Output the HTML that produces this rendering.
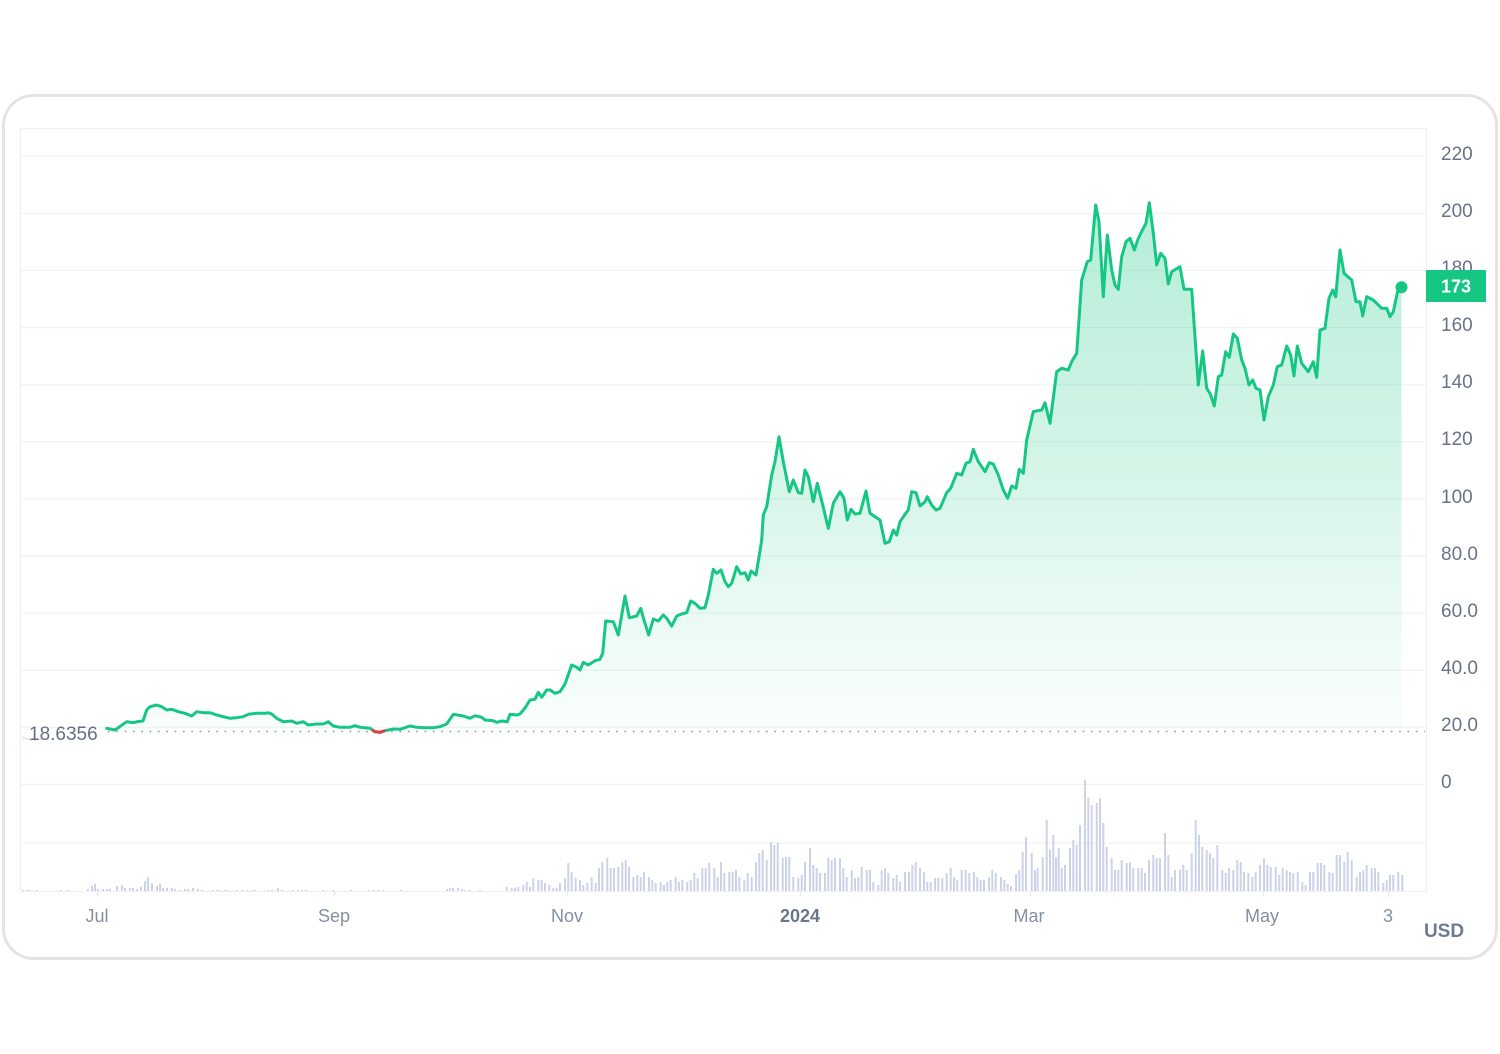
<!DOCTYPE html>
<html>
<head>
<meta charset="utf-8">
<style>
  html, body { margin:0; padding:0; background:#ffffff; }
  body { width:1500px; height:1054px; overflow:hidden; }
  svg { display:block; }
  text { font-family: "Liberation Sans", "DejaVu Sans", sans-serif; }
</style>
</head>
<body>
<svg width="1500" height="1054" viewBox="0 0 1500 1054" xmlns="http://www.w3.org/2000/svg">
  <defs>
    <linearGradient id="fillg" x1="0" y1="203" x2="0" y2="732" gradientUnits="userSpaceOnUse">
      <stop offset="0" stop-color="#16c784" stop-opacity="0.32"/>
      <stop offset="0.5" stop-color="#16c784" stop-opacity="0.18"/>
      <stop offset="1" stop-color="#16c784" stop-opacity="0.02"/>
    </linearGradient>
  </defs>

  <!-- card -->
  <rect x="3.5" y="95.5" width="1493" height="863" rx="30" ry="30" fill="#ffffff" stroke="#e4e4e4" stroke-width="3"/>

  <!-- plot area border -->
  <rect x="20.5" y="128.5" width="1406" height="763" fill="none" stroke="#edf0f5" stroke-width="1"/>

  <!-- grid lines -->
  <g stroke="#f0f2f5" stroke-width="1.2">
    <line x1="21" y1="156.3" x2="1426" y2="156.3"/>
    <line x1="21" y1="213.4" x2="1426" y2="213.4"/>
    <line x1="21" y1="270.5" x2="1426" y2="270.5"/>
    <line x1="21" y1="327.6" x2="1426" y2="327.6"/>
    <line x1="21" y1="384.7" x2="1426" y2="384.7"/>
    <line x1="21" y1="441.8" x2="1426" y2="441.8"/>
    <line x1="21" y1="498.9" x2="1426" y2="498.9"/>
    <line x1="21" y1="556" x2="1426" y2="556"/>
    <line x1="21" y1="613.1" x2="1426" y2="613.1"/>
    <line x1="21" y1="670.2" x2="1426" y2="670.2"/>
    <line x1="21" y1="727.3" x2="1426" y2="727.3"/>
    <line x1="21" y1="784.4" x2="1426" y2="784.4"/>
    <line x1="21" y1="843" x2="1426" y2="843"/>
  </g>

  <!-- x ticks -->
  <g stroke="#e3e7ee" stroke-width="1">
    <line x1="97.5" y1="892" x2="97.5" y2="897"/>
    <line x1="334.5" y1="892" x2="334.5" y2="897"/>
    <line x1="567.5" y1="892" x2="567.5" y2="897"/>
    <line x1="800.5" y1="892" x2="800.5" y2="897"/>
    <line x1="1030.5" y1="892" x2="1030.5" y2="897"/>
    <line x1="1263.5" y1="892" x2="1263.5" y2="897"/>
    <line x1="1388.5" y1="892" x2="1388.5" y2="897"/>
  </g>

  <!-- volume bars -->
  <path fill="none" stroke="#ccd3e8" stroke-width="2" d="
M23 891v-1M27 891v-1M30 891v-1M37 891v-1M61 891v-1M68 891v-1M88 891v-2M92 891v-5M95 891v-7M98 891v-2M103 891v-2M107 891v-2M110 891v-2M117 891v-5M122 891v-6M125 891v-3M130 891v-3M133 891v-3M137 891v-2M141 891v-4M145 891v-10M148 891v-14M152 891v-8M157 891v-5M160 891v-7M163 891v-3M167 891v-3
M172 891v-3M175 891v-2M180 891v-1M185 891v-2M188 891v-2M193 891v-3M198 891v-2M202 891v-1M213 891v-1M217 891v-1M220 891v-1M225 891v-1M228 891v-1M237 891v-1M242 891v-1M247 891v-1M252 891v-1M255 891v-1M268 891v-1M272 891v-1M278 891v-3M282 891v-1M293 891v-1M298 891v-1M302 891v-1M306 891v-1M323 891v-1M333 891v-1M351 891v-1M369 891v-1M374 891v-1M378 891v-1M383 891v-1M401 891v-1M447 891v-2M450 891v-3M453 891v-3M458 891v-3M462 891v-2M465 891v-1M470 891v-1M480 891v-1
M506.7 891v-4M511.7 891v-3M515 891v-3M518.3 891v-4M523.3 891v-6M526.7 891v-9M530 891v-4M533.3 891v-13M538.3 891v-11M541.7 891v-11M545 891v-8M549.3 891v-6M553.3 891v-3M556.7 891v-3M560 891v-8M565 891v-13M568.3 891v-28M571.7 891v-19M575.7 891v-13M580 891v-11M583.3 891v-6M587.3 891v-8M591.7 891v-14M595.7 891v-8M599 891v-23M602.3 891v-29M607.3 891v-33M610.7 891v-23M614 891v-23M618.3 891v-24M622.3 891v-29M625.7 891v-31M629 891v-24M633.3 891v-14M637.3 891v-16M640.7 891v-14M644 891v-19M649 891v-14M652.3 891v-11M655.7 891v-8M660.7 891v-9M664 891v-6M667.3 891v-9M670.7 891v-11M675.7 891v-14M679 891v-9M682.3 891v-11M687.3 891v-9M690.7 891v-11M694.3 891v-18M697.7 891v-13M702.3 891v-23M705.7 891v-23M709.3 891v-28M714.3 891v-23M717.7 891v-14M721 891v-29M724.3 891v-18M729.3 891v-19M732.7 891v-19M736 891v-21M739.3 891v-14M744.3 891v-11M747.7 891v-18M751.7 891v-14M756 891v-29M759.3 891v-38M762.7 891v-41M766.7 891v-31M771 891v-49M774.3 891v-46M777.7 891v-48M782.7 891v-33M786 891v-34M789.3 891v-34M793.3 891v-14M798.3 891v-13M801.7 891v-16M805 891v-29M810 891v-43M813.3 891v-26M816.7 891v-23M820 891v-18M825 891v-18M828.3 891v-33M831.7 891v-31M835 891v-33M840 891v-33M843.3 891v-23M846.7 891v-14M851.7 891v-21M855 891v-13M858.3 891v-14M861.7 891v-24M866.7 891v-21M870 891v-21M873.3 891v-9M878.3 891v-6M881.7 891v-21M885 891v-23M888.3 891v-18M893.3 891v-13M896.7 891v-16M900 891v-9M905 891v-19M909 891v-19M912.3 891v-26M915.7 891v-29M920 891v-23M924 891v-19M927.3 891v-9M930.7 891v-9M935 891v-13M938.3 891v-13M942.3 891v-13M946.7 891v-18M950.7 891v-23M954 891v-14M957.3 891v-11M961.7 891v-21M965.7 891v-21M969.3 891v-18M974 891v-19M977.3 891v-14M980.7 891v-11M984 891v-11M989 891v-14M992.3 891v-21M995.7 891v-18
M1001 891v-14M1004.3 891v-11M1007.7 891v-7M1011 891v-5M1016 891v-17M1019.3 891v-21M1022.7 891v-39M1026 891v-54M1031.7 891v-38M1035 891v-21M1037.7 891v-23M1042.7 891v-34M1046.7 891v-71M1050 891v-41M1053.3 891v-56M1056 891v-34M1058.7 891v-43M1061.7 891v-23M1065 891v-26M1070 891v-43M1073.3 891v-51M1076.7 891v-46M1080 891v-66M1085 891v-111M1088.3 891v-93M1091.7 891v-86M1096.7 891v-88M1100 891v-93M1103.3 891v-68M1106.7 891v-44M1111.7 891v-33M1115 891v-21M1118.3 891v-21M1121.7 891v-31M1126.7 891v-28M1130 891v-29M1133.3 891v-23M1138.3 891v-23M1141.7 891v-23M1145 891v-18M1149 891v-31M1153.3 891v-36M1156.7 891v-33M1160 891v-33M1165 891v-58M1168.3 891v-36M1171.7 891v-14M1175 891v-21M1180 891v-21M1183.3 891v-26M1186.7 891v-21M1191.7 891v-38M1195.7 891v-71M1199 891v-56M1202.3 891v-44M1206.7 891v-41M1210 891v-38M1213.3 891v-33M1217.3 891v-46M1222.3 891v-21M1225.7 891v-18M1229 891v-23M1233.3 891v-21M1237.3 891v-31M1240.7 891v-29M1244 891v-19M1248.3 891v-18M1252.3 891v-14M1255.7 891v-19M1260 891v-26M1264 891v-33M1267.3 891v-26M1270.7 891v-24M1275.7 891v-24M1279.3 891v-16M1282.7 891v-23M1286.7 891v-21M1290 891v-19M1293.3 891v-18M1297.7 891v-19M1302.3 891v-9M1305.7 891v-6M1310 891v-19M1313.3 891v-19M1317.7 891v-28M1321 891v-28M1324.3 891v-26M1329.3 891v-19M1332.7 891v-18M1336.7 891v-36M1340 891v-36M1344.3 891v-29M1347.7 891v-39M1351.7 891v-31M1356.7 891v-14M1360 891v-19M1363.3 891v-21M1366.7 891v-26M1371.7 891v-23M1375 891v-23M1378.3 891v-19M1383.3 891v-8M1386.7 891v-11M1390 891v-16M1393.3 891v-16M1398.3 891v-19M1402.3 891v-16"/>

  <!-- area fill -->
  <path fill="url(#fillg)" stroke="none" d="M106.7,732 L106.7,728.3 115,730 126.7,721.7 133,722.7 138,721.5 143,721 146.7,710 150,706.7 156.7,705 161.7,706.7 166.7,710 171.7,709.3 178.3,711.7 185,713.3 191.7,716 196.7,711.7 203.3,712.7 210,712.7 216.7,715 223.3,716.7 230,718.3 236.7,717.7 243.3,716.7 248.3,714.3 256.7,713.3 265,713.3 268.3,712.7 271.7,714 276.7,718.3 283.3,721.7 291.7,721 296.7,723.3 303.3,721.7 308.3,725 316.7,724 323.3,724 328.3,721.7 333.3,726 340,727.3 350,727.3 355,725.7 360,727.3 370,728.3 375,731.7 380,732.3 385,730.7 393.3,729 400,729.3 410,726 416.7,727.3 425,727.7 433.3,727.7 440,726.7 446.7,724 453.3,714.3 463.3,716 470,718.3 475,715.7 481.7,717.3 485,720 493.3,720.7 496.7,722.3 501.7,721 507.3,721.7 510,714.3 516.7,715 520,714 525,708 530,700 535,699.3 538.3,692.3 541.7,697.3 546.7,690 550,690 555,693.3 560,691.7 565,684 571.7,665 576.7,667.3 580,670 583.3,662.3 588.3,665 595,660.7 600,659.3 602.7,653.3 605.7,621 613.3,621.7 618.3,635 625,596 629.3,617.7 636.7,616 640.7,608.3 644,620 648.7,635 653.3,619 658.3,621 663.3,615 666.7,618.3 671.7,626 676.7,616 681.7,614 686.7,612.7 690.7,601 695,603.3 700,608.3 705,607.7 708.3,595 713.3,569.3 716.7,573.3 721,570 725,581.7 728.3,586.7 731.7,583.3 736.7,566.7 740.7,574 745,572.7 748.3,580 751,571 756,575 758.5,560 761.7,540 763.3,515 766.7,506.7 771.7,475 775,461.7 779,436.7 783.3,461.7 789.3,491.7 793.3,480 798.3,492.7 801.7,493.3 805,470 808.3,476.7 813.3,501.7 817.3,483.3 822.7,505 828.3,528.3 833.3,503.3 840,491.7 844,498.3 847.3,520 851,509.3 855,514 860,513.3 866,491 870,513.3 875,516.7 880,520 885,543.3 889.3,541.7 893.3,530 896.7,535 900,521.7 905,514.3 908.3,510 911.7,491.7 916,492.7 920,506 925,501.7 927.3,496.7 931.7,505 936,510 940,508.3 946.7,492.7 950.7,488.3 956.7,473.3 961.7,475 966,463.3 970,461.7 973.3,449.3 978.3,461.7 985,471.7 989.3,462.7 993.3,464 998.3,475 1003.3,490 1007.7,498.3 1011.7,486 1016,488.3 1019.3,469.3 1023.3,473.3 1026.7,440 1033.3,411.7 1037.3,410.7 1041.7,410 1045,402.7 1050,423.3 1056.7,371.7 1061.7,368.3 1068.3,370 1071.7,361.7 1076.7,353.3 1081.7,280 1087.3,261.7 1090.7,260 1095.7,205 1099,221.7 1103.3,296.7 1107.3,235 1111.7,270 1115,285 1118.3,289.3 1121.7,256.7 1126,241.7 1130,238.3 1134.3,250 1138.3,238.3 1143.3,228.3 1146,223.3 1149.3,202.7 1153.3,233.3 1156.7,265 1160.7,253.3 1165,258.3 1168.3,284 1171.7,271.7 1180,266.7 1184,289.3 1191.7,289.3 1198.3,385 1202.7,351 1206.7,388.3 1210,393.3 1214.3,406 1218.3,376.7 1221.7,375 1225.7,351.7 1229.3,357.3 1233.3,334 1237.3,338.3 1241.7,360 1245,368.3 1249,385 1252.7,380 1256,388.3 1260,390 1264,420 1268.3,396.7 1273.3,385 1277.3,366.7 1281.7,365 1286.7,346 1290.7,355 1294,376 1297.3,346 1301.7,363.3 1308.3,371.7 1313.3,361.7 1316.7,377.3 1320,330 1325,328.3 1329,298.3 1332.7,290 1335.7,296.7 1340,250 1344,273.3 1351.7,280 1356,301.7 1360,301.7 1362.7,316 1366.7,296.7 1373.3,300 1381.7,308.3 1386.7,308.3 1390,316.7 1393.3,311.7 1398.3,288.3 1401.5,287.3 L1401.5,732 Z"/>

  <!-- baseline dotted -->
  <line x1="108" y1="731.5" x2="1425" y2="731.5" stroke="#8e97aa" stroke-width="1.6" stroke-dasharray="1.6 6.73"/>

  <!-- faint red leftover -->
  <path d="M22,737 Q32,742 44,738" fill="none" stroke="#f3b9bd" stroke-width="1.5" opacity="0.6"/>

  <!-- price line -->
  <polyline fill="none" stroke="#16c784" stroke-width="3" stroke-linejoin="round" stroke-linecap="round" points="106.7,728.3 115,730 126.7,721.7 133,722.7 138,721.5 143,721 146.7,710 150,706.7 156.7,705 161.7,706.7 166.7,710 171.7,709.3 178.3,711.7 185,713.3 191.7,716 196.7,711.7 203.3,712.7 210,712.7 216.7,715 223.3,716.7 230,718.3 236.7,717.7 243.3,716.7 248.3,714.3 256.7,713.3 265,713.3 268.3,712.7 271.7,714 276.7,718.3 283.3,721.7 291.7,721 296.7,723.3 303.3,721.7 308.3,725 316.7,724 323.3,724 328.3,721.7 333.3,726 340,727.3 350,727.3 355,725.7 360,727.3 370,728.3 375,731.7 380,732.3 385,730.7 393.3,729 400,729.3 410,726 416.7,727.3 425,727.7 433.3,727.7 440,726.7 446.7,724 453.3,714.3 463.3,716 470,718.3 475,715.7 481.7,717.3 485,720 493.3,720.7 496.7,722.3 501.7,721 507.3,721.7 510,714.3 516.7,715 520,714 525,708 530,700 535,699.3 538.3,692.3 541.7,697.3 546.7,690 550,690 555,693.3 560,691.7 565,684 571.7,665 576.7,667.3 580,670 583.3,662.3 588.3,665 595,660.7 600,659.3 602.7,653.3 605.7,621 613.3,621.7 618.3,635 625,596 629.3,617.7 636.7,616 640.7,608.3 644,620 648.7,635 653.3,619 658.3,621 663.3,615 666.7,618.3 671.7,626 676.7,616 681.7,614 686.7,612.7 690.7,601 695,603.3 700,608.3 705,607.7 708.3,595 713.3,569.3 716.7,573.3 721,570 725,581.7 728.3,586.7 731.7,583.3 736.7,566.7 740.7,574 745,572.7 748.3,580 751,571 756,575 758.5,560 761.7,540 763.3,515 766.7,506.7 771.7,475 775,461.7 779,436.7 783.3,461.7 789.3,491.7 793.3,480 798.3,492.7 801.7,493.3 805,470 808.3,476.7 813.3,501.7 817.3,483.3 822.7,505 828.3,528.3 833.3,503.3 840,491.7 844,498.3 847.3,520 851,509.3 855,514 860,513.3 866,491 870,513.3 875,516.7 880,520 885,543.3 889.3,541.7 893.3,530 896.7,535 900,521.7 905,514.3 908.3,510 911.7,491.7 916,492.7 920,506 925,501.7 927.3,496.7 931.7,505 936,510 940,508.3 946.7,492.7 950.7,488.3 956.7,473.3 961.7,475 966,463.3 970,461.7 973.3,449.3 978.3,461.7 985,471.7 989.3,462.7 993.3,464 998.3,475 1003.3,490 1007.7,498.3 1011.7,486 1016,488.3 1019.3,469.3 1023.3,473.3 1026.7,440 1033.3,411.7 1037.3,410.7 1041.7,410 1045,402.7 1050,423.3 1056.7,371.7 1061.7,368.3 1068.3,370 1071.7,361.7 1076.7,353.3 1081.7,280 1087.3,261.7 1090.7,260 1095.7,205 1099,221.7 1103.3,296.7 1107.3,235 1111.7,270 1115,285 1118.3,289.3 1121.7,256.7 1126,241.7 1130,238.3 1134.3,250 1138.3,238.3 1143.3,228.3 1146,223.3 1149.3,202.7 1153.3,233.3 1156.7,265 1160.7,253.3 1165,258.3 1168.3,284 1171.7,271.7 1180,266.7 1184,289.3 1191.7,289.3 1198.3,385 1202.7,351 1206.7,388.3 1210,393.3 1214.3,406 1218.3,376.7 1221.7,375 1225.7,351.7 1229.3,357.3 1233.3,334 1237.3,338.3 1241.7,360 1245,368.3 1249,385 1252.7,380 1256,388.3 1260,390 1264,420 1268.3,396.7 1273.3,385 1277.3,366.7 1281.7,365 1286.7,346 1290.7,355 1294,376 1297.3,346 1301.7,363.3 1308.3,371.7 1313.3,361.7 1316.7,377.3 1320,330 1325,328.3 1329,298.3 1332.7,290 1335.7,296.7 1340,250 1344,273.3 1351.7,280 1356,301.7 1360,301.7 1362.7,316 1366.7,296.7 1373.3,300 1381.7,308.3 1386.7,308.3 1390,316.7 1393.3,311.7 1398.3,288.3 1401.5,287.3"/>

  <!-- red dip below baseline -->
  <polyline fill="none" stroke="#ea3943" stroke-width="3" stroke-linecap="round" points="373,730.6 375,731.7 380,732.3 384,731"/>

  <!-- last point dot -->
  <circle cx="1401.5" cy="287.3" r="6" fill="#16c784"/>

  <!-- y axis labels -->
  <g font-size="19" fill="#687388">
    <text x="1441" y="160">220</text>
    <text x="1441" y="217">200</text>
    <text x="1441" y="274">180</text>
    <text x="1441" y="331">160</text>
    <text x="1441" y="388">140</text>
    <text x="1441" y="445">120</text>
    <text x="1441" y="503">100</text>
    <text x="1441" y="560">80.0</text>
    <text x="1441" y="617">60.0</text>
    <text x="1441" y="674">40.0</text>
    <text x="1441" y="731">20.0</text>
    <text x="1441" y="788">0</text>
  </g>

  <!-- current price badge -->
  <rect x="1426" y="270" width="60" height="32" fill="#16c784"/>
  <text x="1456" y="292.5" font-size="18" font-weight="bold" fill="#ffffff" text-anchor="middle">173</text>

  <!-- baseline label -->
  <text x="29" y="740" font-size="19" fill="#646f85">18.6356</text>

  <!-- x axis labels -->
  <g font-size="18" fill="#858fa3" text-anchor="middle">
    <text x="97" y="922">Jul</text>
    <text x="334" y="922">Sep</text>
    <text x="567" y="922">Nov</text>
    <text x="800" y="922" font-weight="bold" fill="#6b768c">2024</text>
    <text x="1029" y="922">Mar</text>
    <text x="1262" y="922">May</text>
    <text x="1388" y="922">3</text>
  </g>

  <text x="1444" y="937" font-size="19" font-weight="bold" fill="#6f7a90" text-anchor="middle">USD</text>
</svg>
</body>
</html>
